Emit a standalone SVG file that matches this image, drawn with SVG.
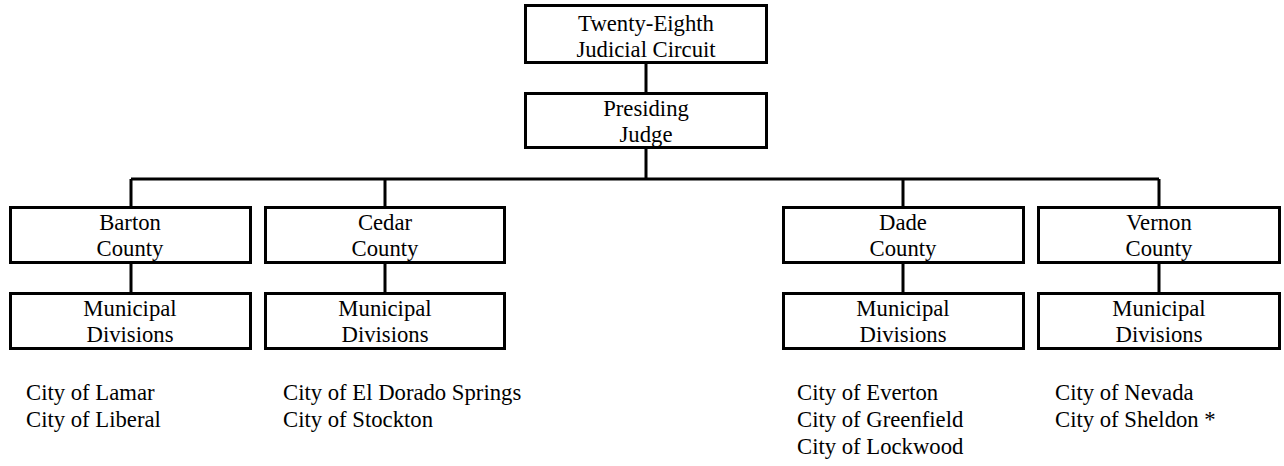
<svg xmlns="http://www.w3.org/2000/svg" width="1284" height="466" viewBox="0 0 1284 466">
<style>
.box{fill:#fff;stroke:#000;stroke-width:3}
.ln{fill:none;stroke:#000;stroke-width:3}
text{font-family:"Liberation Serif","Times New Roman",serif;font-size:22.7px;fill:#000}
.c{text-anchor:middle}
</style>
<rect width="1284" height="466" fill="#fff"/>
<g id="connectors">
<path class="ln" d="M646 63V93M646 148V179M131 179H1159M131 179V207M385 179V207M903 179V207M1159 179V207M131 264V292M385 264V292M903 264V292M1159 264V292"/>
</g>
<g id="circuit"><rect class="box" x="525.5" y="5.5" width="241" height="57"/><text class="c" x="646" y="31">Twenty-Eighth</text><text class="c" x="646" y="57">Judicial Circuit</text></g>
<g id="judge"><rect class="box" x="525.5" y="93.5" width="241" height="54"/><text class="c" x="646" y="116">Presiding</text><text class="c" x="646" y="142">Judge</text></g>
<g id="barton"><rect class="box" x="10.5" y="207.5" width="240" height="55"/><text class="c" x="130" y="230">Barton</text><text class="c" x="130" y="256">County</text></g>
<g id="cedar"><rect class="box" x="265.5" y="207.5" width="239" height="55"/><text class="c" x="385" y="230">Cedar</text><text class="c" x="385" y="256">County</text></g>
<g id="dade"><rect class="box" x="783.5" y="207.5" width="240" height="55"/><text class="c" x="903" y="230">Dade</text><text class="c" x="903" y="256">County</text></g>
<g id="vernon"><rect class="box" x="1038.5" y="207.5" width="241" height="55"/><text class="c" x="1159" y="230">Vernon</text><text class="c" x="1159" y="256">County</text></g>
<g id="barton-muni"><rect class="box" x="10.5" y="293.5" width="240" height="55"/><text class="c" x="130" y="316">Municipal</text><text class="c" x="130" y="342">Divisions</text></g>
<g id="cedar-muni"><rect class="box" x="265.5" y="293.5" width="239" height="55"/><text class="c" x="385" y="316">Municipal</text><text class="c" x="385" y="342">Divisions</text></g>
<g id="dade-muni"><rect class="box" x="783.5" y="293.5" width="240" height="55"/><text class="c" x="903" y="316">Municipal</text><text class="c" x="903" y="342">Divisions</text></g>
<g id="vernon-muni"><rect class="box" x="1038.5" y="293.5" width="241" height="55"/><text class="c" x="1159" y="316">Municipal</text><text class="c" x="1159" y="342">Divisions</text></g>
<g id="cities">
<text x="26" y="400">City of Lamar</text><text x="26" y="427">City of Liberal</text>
<text x="283" y="400">City of El Dorado Springs</text><text x="283" y="427">City of Stockton</text>
<text x="797" y="400">City of Everton</text><text x="797" y="427">City of Greenfield</text><text x="797" y="454">City of Lockwood</text>
<text x="1055" y="400">City of Nevada</text><text x="1055" y="427">City of Sheldon *</text>
</g>
</svg>
